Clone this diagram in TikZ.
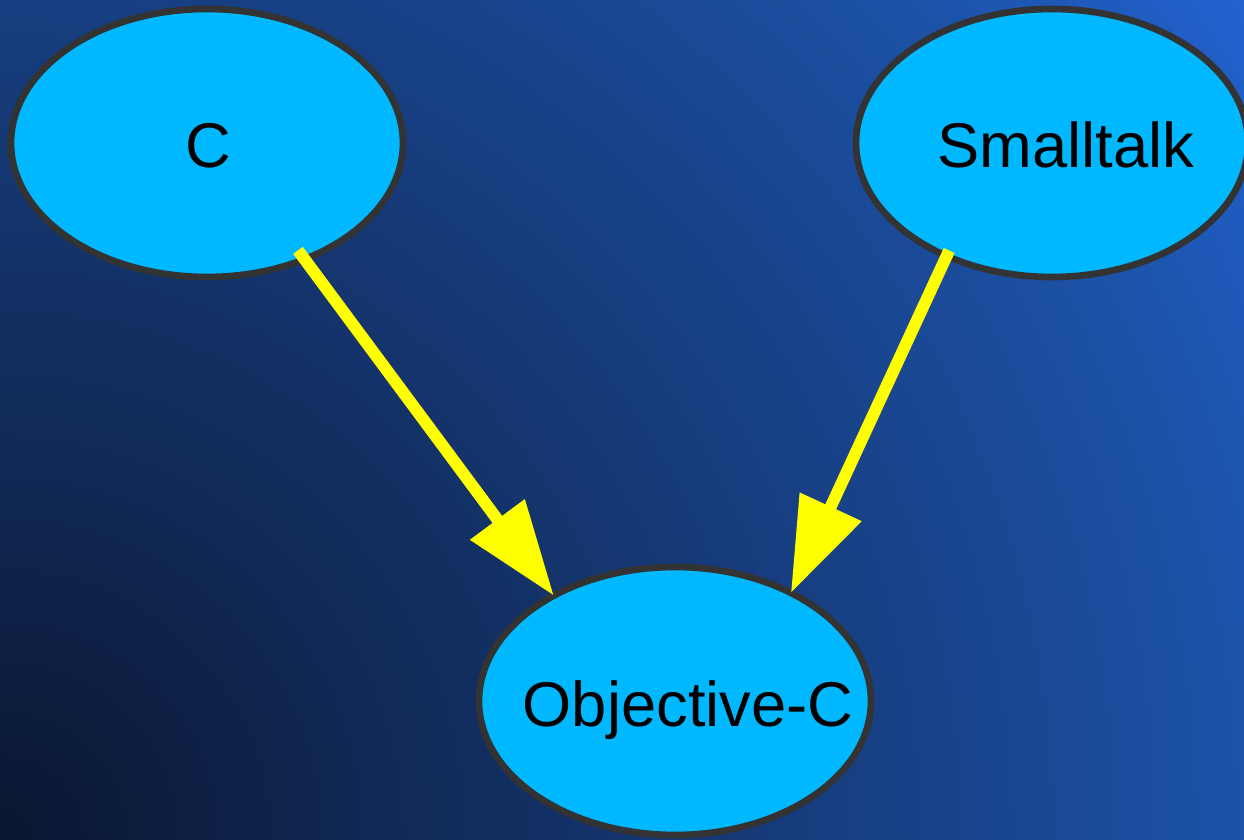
\documentclass[tikz,border=0pt]{standalone}
\usepackage{fontspec}
\setmainfont{Liberation Sans}
\usetikzlibrary{shapes.geometric,arrows.meta}
\definecolor{bgA}{HTML}{0A1630}
\definecolor{bgB}{HTML}{163A78}
\definecolor{bgC}{HTML}{1C52A8}
\definecolor{bgD}{HTML}{2262D0}
\definecolor{nodefill}{HTML}{00B8FF}
\definecolor{nodeline}{HTML}{333333}
\definecolor{edgecol}{HTML}{FFFF00}
\tikzset{
  lang/.style={ellipse, fill=nodefill, draw=nodeline, line width=3.8pt, inner sep=0pt, outer sep=0pt, minimum width=7.84cm, minimum height=5.36cm},
  lbl/.style={anchor=base, inner sep=0pt, font=\fontsize{36}{43}\selectfont, text=black},
  edgeline/.style={draw=edgecol, line width=6.8pt, -{Triangle[length=54pt,width=37pt]}}
}
\begin{document}
\begin{tikzpicture}
\useasboundingbox (0,0) rectangle (24.88,16.8);
\clip (0,0) rectangle (24.88,16.8);
\foreach \i in {0,...,149} {
  \pgfmathsetmacro\f{1-\i/150}
  \pgfmathsetmacro\r{30.1*\f}
  \ifdim \f pt>0.83pt
    \pgfmathtruncatemacro\p{(\f-0.83)/0.17*100}
    \colorlet{ringcol}{bgD!\p!bgC}
  \else
    \ifdim \f pt>0.5pt
      \pgfmathtruncatemacro\p{(\f-0.5)/0.33*100}
      \colorlet{ringcol}{bgC!\p!bgB}
    \else
      \pgfmathtruncatemacro\p{\f/0.5*100}
      \colorlet{ringcol}{bgB!\p!bgA}
    \fi
  \fi
  \fill[ringcol] (0,0) circle (\r cm);
}
\node[lang] (c) at (4.14,13.94) {};
\node[lang] (s) at (21.04,13.94) {};
\node[lang] (o) at (13.5,2.78) {};
\node[lbl] (ct) at (4.16,13.44) {C};
\node[lbl] (st) at (21.32,13.44) {Smalltalk};
\node[lbl] (ot) at (13.76,2.26) {Objective-C};
\draw[edgeline, shorten <=-0.22cm] (c.-50) -- (o.139.3);
\draw[edgeline, shorten <=-0.12cm] (s.-133.7) -- (o.43.5);
\end{tikzpicture}
\end{document}
